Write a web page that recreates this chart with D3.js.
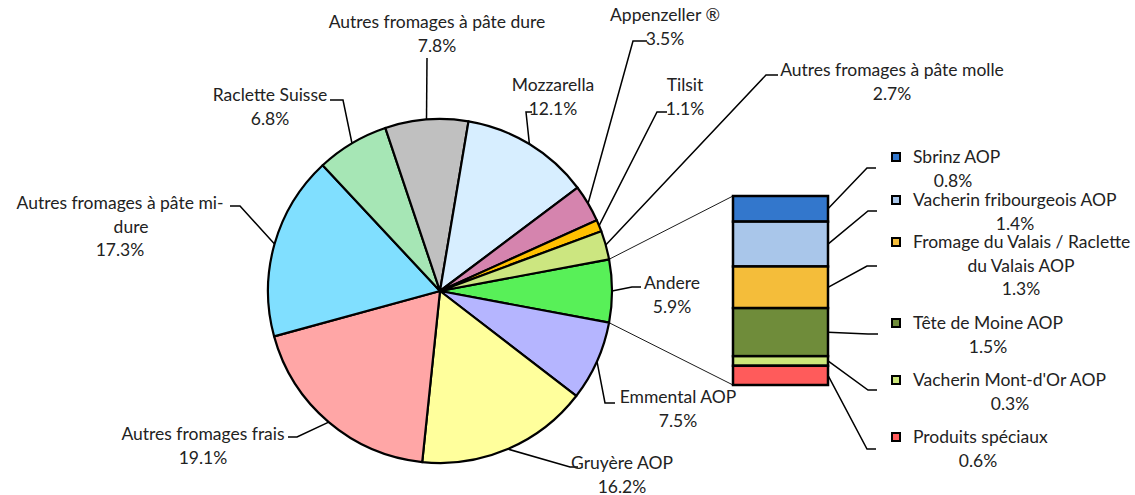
<!DOCTYPE html>
<html>
<head>
<meta charset="utf-8">
<script src="https://cdn.jsdelivr.net/npm/d3@7"></script>
<style>
  body { margin: 0; background: #fff; }
  text { font-family: Lato, "Open Sans", sans-serif; font-size: 17.5px; fill: #222; }
</style>
</head>
<body>
<div id="chart"></div>
<script>
// pie slices, clockwise starting with the "Andere" slice (centred at 3 o'clock)
const pieNames = ["Andere", "Emmental AOP", "Gruyère AOP", "Autres fromages frais",
  "Autres fromages à pâte mi-dure", "Raclette Suisse", "Autres fromages à pâte dure",
  "Mozzarella", "Appenzeller ®", "Tilsit", "Autres fromages à pâte molle"];
const pieValues = [5.9, 7.5, 16.2, 19.1, 17.3, 6.8, 7.8, 12.1, 3.5, 1.1, 2.7];
const pieColors = ["#58f058", "#b5b5ff", "#ffff9c", "#ffa6a6", "#80dfff", "#a6e6b5",
  "#c0c0c0", "#d7eeff", "#d584ae", "#ffc000", "#cce680"];

// breakdown of "Andere" in the bar, top to bottom
const barNames = ["Sbrinz AOP", "Vacherin fribourgeois AOP", "Fromage du Valais / Raclette du Valais AOP",
  "Tête de Moine AOP", "Vacherin Mont-d'Or AOP", "Produits spéciaux"];
const barValues = [0.8, 1.4, 1.3, 1.5, 0.3, 0.6];
const barColors = ["#3377cc", "#a9c6ea", "#f4bd3a", "#6f8c3a", "#cce67a", "#ff5b5b"];

const width = 1135, height = 495;
const cx = 440, cy = 291, r = 172;

// label layout for the pie: text centre, line list, elbow points of the leader
const pieLabelLayout = [
  { x: 672, y: 283, lines: ["Andere"], elbow: [[641, 287], [632, 287]] },
  { x: 678, y: 397, lines: ["Emmental AOP"], elbow: [[615, 403], [605, 403]] },
  { x: 622, y: 463, lines: ["Gruyère AOP"], elbow: [[578, 467], [570, 467]] },
  { x: 203, y: 434, lines: ["Autres fromages frais"], elbow: [[288, 437], [297, 437]] },
  { x: 120, y: 203, lines: ["Autres fromages à pâte mi-", "dure"], elbow: [[230, 206], [240, 206]] },
  { x: 270, y: 95, lines: ["Raclette Suisse"], elbow: [[330, 100], [343, 100]] },
  { x: 437, y: 22, lines: ["Autres fromages à pâte dure"], elbow: [[427, 58]] },
  { x: 553, y: 85, lines: ["Mozzarella"], elbow: [[532, 112], [526, 112]] },
  { x: 665, y: 15, lines: ["Appenzeller ®"], elbow: [[647, 41], [633, 41]] },
  { x: 685, y: 85, lines: ["Tilsit"], elbow: [[667, 112], [657, 112]] },
  { x: 892, y: 70, lines: ["Autres fromages à pâte molle"], elbow: [[778, 75], [766, 75]] }
];

const barLabelLayout = [
  { my: 157, lines: ["Sbrinz AOP"], pc: 953, elbow: [[876, 168], [867, 168]] },
  { my: 200, lines: ["Vacherin fribourgeois AOP"], pc: 1015, elbow: [[877, 211], [868, 211]] },
  { my: 242, lines: ["Fromage du Valais / Raclette", "du Valais AOP"], pc: 1021, elbow: [[877, 266], [867, 266]] },
  { my: 323, lines: ["Tête de Moine AOP"], pc: 988, elbow: [[878, 334], [868, 334]] },
  { my: 380, lines: ["Vacherin Mont-d'Or AOP"], pc: 1010, elbow: [[877, 390], [868, 390]] },
  { my: 437, lines: ["Produits spéciaux"], pc: 978, elbow: [[876, 449], [867, 449]] }
];

const lineH = 23.5;

const svg = d3.select("#chart").append("svg")
  .attr("width", width).attr("height", height);

// ---- pie
const otherShare = pieValues[0] / d3.sum(pieValues);
const start = Math.PI / 2 - otherShare * Math.PI;
const pie = d3.pie().sort(null).value(d => d).startAngle(start).endAngle(start + 2 * Math.PI);
const arcs = pie(pieValues);
const arc = d3.arc().innerRadius(0).outerRadius(r);

const g = svg.append("g").attr("transform", `translate(${cx},${cy})`);
g.selectAll("path.slice")
  .data(arcs)
  .enter()
  .append("path")
  .attr("class", "slice")
  .attr("d", arc)
  .attr("fill", (d, i) => pieColors[i])
  .attr("stroke", "#000")
  .attr("stroke-width", 2.2)
  .attr("stroke-linejoin", "round");

function edgePoint(a) {
  return [cx + r * Math.sin(a), cy - r * Math.cos(a)];
}

// ---- bar
const barX = 733, barW = 95, barTop = 196, barBottom = 385;
const y = d3.scaleLinear().domain([0, d3.sum(barValues)]).range([barTop, barBottom]);
const cum = d3.cumsum(barValues);
const segs = barValues.map((v, i) => ({ v, y0: cum[i] - v, y1: cum[i], i }));

// connectors from the "Andere" slice to the bar
const andere = arcs[0];
const pTop = edgePoint(andere.startAngle), pBot = edgePoint(andere.endAngle);
svg.append("line").attr("x1", pTop[0]).attr("y1", pTop[1]).attr("x2", barX).attr("y2", y(0))
  .attr("stroke", "#000").attr("stroke-width", 0.9);
svg.append("line").attr("x1", pBot[0]).attr("y1", pBot[1]).attr("x2", barX).attr("y2", y(d3.sum(barValues)))
  .attr("stroke", "#000").attr("stroke-width", 0.9);

svg.selectAll("rect.seg")
  .data(segs)
  .enter()
  .append("rect")
  .attr("class", "seg")
  .attr("x", barX)
  .attr("y", d => y(d.y0))
  .attr("width", barW)
  .attr("height", d => y(d.y1) - y(d.y0))
  .attr("fill", d => barColors[d.i])
  .attr("stroke", "#000")
  .attr("stroke-width", 2.5);

const lineGen = d3.line();

// ---- pie labels
arcs.forEach((d, i) => {
  const lay = pieLabelLayout[i];
  const mid = (d.startAngle + d.endAngle) / 2;
  const pts = lay.elbow.concat([edgePoint(mid)]);
  svg.append("path").attr("d", lineGen(pts)).attr("fill", "none")
    .attr("stroke", "#000").attr("stroke-width", 1.5);
  const t = svg.append("text").attr("text-anchor", "middle");
  const lines = lay.lines.concat([d3.format(".1f")(pieValues[i]) + "%"]);
  lines.forEach((s, k) => {
    t.append("tspan").attr("x", lay.x + (s === "dure" ? 11 : 0)).attr("y", lay.y + k * lineH + 6).text(s);
  });
});

// ---- bar labels
segs.forEach((d, i) => {
  const lay = barLabelLayout[i];
  const midY = (y(d.y0) + y(d.y1)) / 2;
  const pts = lay.elbow.concat([[barX + barW, midY]]);
  svg.append("path").attr("d", lineGen(pts)).attr("fill", "none")
    .attr("stroke", "#000").attr("stroke-width", 1.5);
  svg.append("rect").attr("x", 892).attr("y", lay.my - 4).attr("width", 8).attr("height", 8)
    .attr("fill", barColors[i]).attr("stroke", "#000").attr("stroke-width", 2);
  svg.append("text").attr("x", 913).attr("y", lay.my + 6).text(lay.lines[0]);
  let k = 1;
  for (; k < lay.lines.length; k++) {
    svg.append("text").attr("text-anchor", "middle").attr("x", 1021)
      .attr("y", lay.my + k * lineH + 6).text(lay.lines[k]);
  }
  svg.append("text").attr("text-anchor", "middle").attr("x", lay.pc)
    .attr("y", lay.my + k * lineH + 6).text(d3.format(".1f")(barValues[i]) + "%");
});
</script>
</body>
</html>
